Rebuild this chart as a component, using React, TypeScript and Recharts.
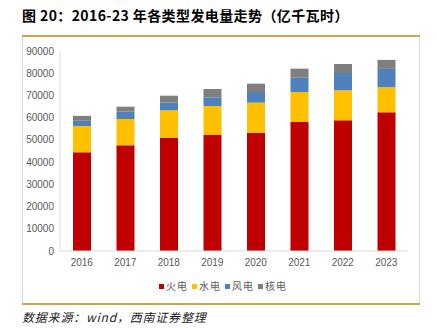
import React from "react";
import { BarChart, Bar, XAxis, YAxis } from "recharts";

const years = ["2016", "2017", "2018", "2019", "2020", "2021", "2022", "2023"];
const thermal = [44400, 47550, 51000, 52200, 53250, 58050, 58800, 62400];
const hydro = [11800, 11850, 12300, 13050, 13500, 13500, 13500, 11300];
const wind = [2400, 3300, 3450, 3900, 4800, 6450, 7800, 8250];
const nuclear = [2200, 2250, 3150, 3750, 3750, 4050, 4050, 4050];
const yTicks = [0, 10000, 20000, 30000, 40000, 50000, 60000, 70000, 80000, 90000];

const seriesNames = ["火电", "水电", "风电", "核电"];
const seriesKeys = ["thermal", "hydro", "wind", "nuclear"];
const seriesColors = ["#C00000", "#FFC000", "#4F81BD", "#7F7F7F"];

const data = years.map((y, i) => ({
  year: y,
  thermal: thermal[i],
  hydro: hydro[i],
  wind: wind[i],
  nuclear: nuclear[i],
}));

const tickStyle = { fontSize: 10, fill: "#595959", fontFamily: "'Liberation Sans', Arial, sans-serif" };

export default function App() {
  return (
    <div style={{ position: "absolute", left: 0, top: 0, width: 437, height: 328, background: "#fff", overflow: "hidden" }}>
      <div
        style={{
          position: "absolute",
          left: 22,
          top: 5,
          fontFamily: "'Noto Sans CJK SC', sans-serif",
          fontWeight: 700,
          fontSize: 14,
          lineHeight: "20px",
          letterSpacing: 0.4,
          color: "#000",
          whiteSpace: "nowrap",
        }}
      >
        图 20：2016-23 年各类型发电量走势（亿千瓦时）
      </div>
      <div
        style={{
          position: "absolute",
          left: 22,
          top: 36,
          width: 398,
          height: 267,
          borderLeft: "1px solid #d9d9d9",
          borderRight: "1px solid #d9d9d9",
          boxSizing: "border-box",
        }}
      />
      <div style={{ position: "absolute", left: 22, top: 35, width: 398, height: 2, background: "#D9A148" }} />
      <div style={{ position: "absolute", left: 22, top: 303, width: 398, height: 2, background: "#D9A148" }} />
      <div style={{ position: "absolute", left: 0, top: 0 }}>
        <BarChart width={437} height={328} data={data} margin={{ top: 51, right: 29, left: 0, bottom: 47 }}>
          <XAxis
            dataKey="year"
            height={30}
            tick={tickStyle}
            tickLine={false}
            tickSize={6}
            tickMargin={2}
            axisLine={{ stroke: "#d9d9d9" }}
          />
          <YAxis
            width={60}
            domain={[0, 90000]}
            ticks={yTicks}
            interval={0}
            tick={tickStyle}
            tickLine={false}
            tickSize={5}
            tickMargin={1}
            axisLine={{ stroke: "#d9d9d9" }}
          />
          {seriesKeys.map((k, i) => (
            <Bar key={k} dataKey={k} name={seriesNames[i]} stackId="a" fill={seriesColors[i]} barSize={18} isAnimationActive={false} />
          ))}
        </BarChart>
      </div>
      <div
        style={{
          position: "absolute",
          left: 159,
          top: 279,
          display: "flex",
          gap: 4,
          fontFamily: "'Noto Sans CJK SC', sans-serif",
          fontSize: 10,
          lineHeight: "14px",
          color: "#595959",
        }}
      >
        {seriesNames.map((n, i) => (
          <div key={n} style={{ display: "flex", alignItems: "center" }}>
            <span style={{ display: "inline-block", width: 5, height: 5, background: seriesColors[i], marginRight: 2 }} />
            <span style={{ letterSpacing: 1 }}>{n}</span>
          </div>
        ))}
      </div>
      <div
        style={{
          position: "absolute",
          left: 22,
          top: 309,
          fontFamily: "'Noto Sans CJK SC', sans-serif",
          fontStyle: "italic",
          fontSize: 12,
          lineHeight: "16px",
          letterSpacing: 0.8,
          color: "#222",
          whiteSpace: "nowrap",
        }}
      >
        数据来源：wind，西南证券整理
      </div>
    </div>
  );
}
